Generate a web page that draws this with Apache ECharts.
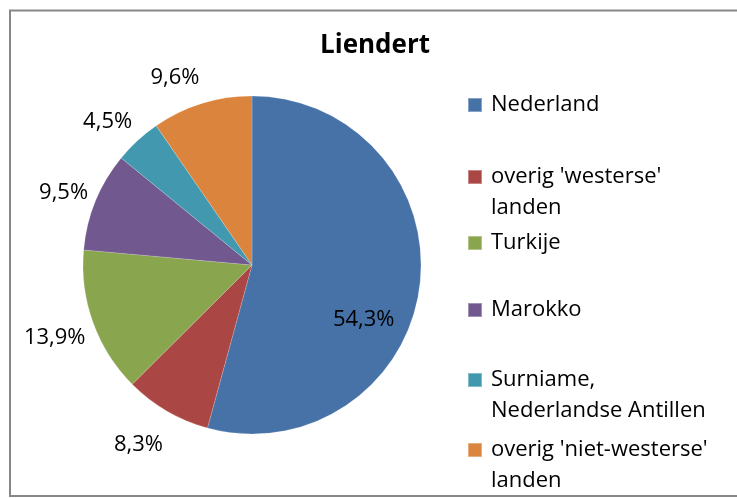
<!DOCTYPE html>
<html>
<head>
<meta charset="utf-8">
<script src="https://cdn.jsdelivr.net/npm/echarts@6/dist/echarts.min.js"></script>
<style>html,body{margin:0;padding:0;background:#fff}#c{width:737px;height:498px}</style>
</head>
<body>
<div id="c"></div>
<script>
var categories = ["Nederland", "overig 'westerse'\nlanden", "Turkije", "Marokko", "Surniame,\nNederlandse Antillen", "overig 'niet-westerse'\nlanden"];
var values = [54.3, 8.3, 13.9, 9.5, 4.5, 9.6];
var colors = ['#4672A8', '#AA4643', '#89A54E', '#71588F', '#4198AF', '#DB843D'];
var legendIconY = [105, 177, 243, 310, 380, 450];

var FONT = 'Open Sans';
var CX = 252, CY = 265, R = 169, LINE = 31;
var total = values.reduce(function (a, b) { return a + b; }, 0);

var legends = categories.map(function (name, i) {
  var twoLine = name.indexOf('\n') >= 0;
  return {
    data: [name],
    orient: 'vertical',
    left: 467,
    top: legendIconY[i] - (twoLine ? 1.5 * LINE : 0.5 * LINE),
    padding: 0,
    itemWidth: 14,
    itemHeight: 14,
    icon: 'rect',
    selectedMode: false,
    formatter: function (n) { return n.indexOf('\n') >= 0 ? '\n' + n : n; },
    textStyle: {
      fontFamily: FONT, fontSize: 22, color: '#000', lineHeight: LINE,
      padding: [0, 0, 0, 4]
    }
  };
});

var chart = echarts.init(document.getElementById('c'), null, { renderer: 'canvas' });
chart.setOption({
  animation: false,
  color: colors,
  title: {
    text: 'Liendert', left: 370, top: 28, textAlign: 'center',
    textStyle: { fontFamily: FONT, fontSize: 26, fontWeight: 'bold', color: '#000' }
  },
  graphic: [{
    type: 'rect', shape: { x: 10, y: 10.5, width: 760, height: 485.5 },
    style: { fill: 'none', stroke: '#878787', lineWidth: 2 }, silent: true
  }],
  legend: legends,
  series: [{
    type: 'pie',
    center: [CX, CY],
    radius: R,
    startAngle: 90,
    clockwise: true,
    avoidLabelOverlap: false,
    itemStyle: { borderColor: 'rgba(255,255,255,0.35)', borderWidth: 0.5 },
    label: {
      show: true, position: 'outside', fontFamily: FONT, fontSize: 22, color: '#000',
      formatter: function (p) { return p.value.toFixed(1).replace('.', ',') + '%'; }
    },
    labelLine: { show: false },
    labelLayout: function (p) {
      var i = p.dataIndex;
      if (i === 0) return {};
      var cum = 0;
      for (var k = 0; k < i; k++) cum += values[k];
      var th = (cum + values[i] / 2) / total * 2 * Math.PI;
      var s = Math.sin(th), c = Math.cos(th);
      return {
        x: CX + (R + 8) * s,
        y: CY + 3 - (R + 30 + (c < 0 ? 5 : 0)) * c,
        align: s < 0 ? 'right' : 'left',
        verticalAlign: 'middle'
      };
    },
    data: categories.map(function (n, i) {
      var d = { name: n, value: values[i] };
      if (i === 0) d.label = { position: 'inside', offset: [25, 43] };
      return d;
    })
  }]
});
</script>
</body>
</html>
